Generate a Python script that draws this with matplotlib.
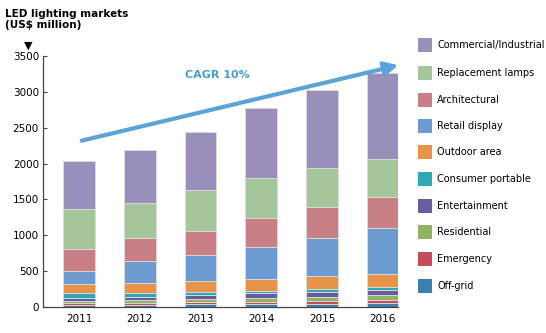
import matplotlib
matplotlib.use('Agg')
from matplotlib import pyplot as plt
from matplotlib.patches import Rectangle
import numpy as np

plt.rcParams['font.family'] = ['DejaVu Sans']

years = ['2011', '2012', '2013', '2014', '2015', '2016']

# segments bottom -> top, US$ million
segments = ['Off-grid', 'Emergency', 'Residential', 'Entertainment', 'Consumer portable',
            'Outdoor area', 'Retail display', 'Architectural', 'Replacement lamps',
            'Commercial/Industrial']
off_grid = [30, 30, 38, 42, 47, 55]
emergency = [25, 25, 30, 30, 35, 40]
residential = [35, 40, 50, 50, 60, 70]
entertainment = [40, 50, 50, 70, 70, 75]
consumer_portable = [60, 55, 45, 35, 35, 35]
outdoor_area = [130, 140, 150, 168, 185, 185]
retail_display = [180, 300, 362, 446, 535, 646]
architectural = [310, 320, 340, 396, 423, 432]
replacement_lamps = [560, 490, 570, 566, 544, 522]
commercial = [670, 740, 810, 977, 1096, 1208]

values = [off_grid, emergency, residential, entertainment, consumer_portable,
          outdoor_area, retail_display, architectural, replacement_lamps, commercial]
colors = ['#3f7fad', '#c84b5d', '#8fb360', '#6a5c9e', '#2ba9b4',
          '#e8934a', '#6c9bd2', '#c97f86', '#a5c59a', '#9a8fba']

fig = plt.figure(figsize=(5.46, 3.33), dpi=100)
ax = fig.add_axes([0.079, 0.078, 0.650, 0.754])

x = np.arange(len(years))
bottom = np.zeros(len(years))
for vals, col in zip(values, colors):
    ax.bar(x, vals, 0.52, bottom=bottom, color=col, edgecolor='#dcdcdc', linewidth=0.6)
    bottom += np.array(vals)

ax.set_xlim(-0.59, 5.25)
ax.set_ylim(0, 3500)
ax.set_yticks(range(0, 3501, 500))
ax.set_xticks(x)
ax.set_xticklabels(years)
ax.tick_params(axis='y', direction='in', length=3, labelsize=7.5, color='#444444', pad=3)
ax.tick_params(axis='x', length=0, labelsize=7.5, pad=5)
for s in ['top', 'right']:
    ax.spines[s].set_visible(False)
for s in ['left', 'bottom']:
    ax.spines[s].set_color('#444444')
    ax.spines[s].set_linewidth(0.9)

# CAGR arrow
ax.annotate('', xy=(5.3, 3380), xytext=(0.0, 2310),
            arrowprops=dict(arrowstyle='-|>,head_length=0.8,head_width=0.4',
                            color='#5ba3d8', lw=3), annotation_clip=False)
ax.text(2.28, 3240, 'CAGR 10%', color='#4a9ad6', fontsize=8, fontweight='bold',
        ha='center', va='center')

fig.text(0.01, 0.972, 'LED lighting markets\n(US$ million)', fontsize=7.5,
         fontweight='bold', ha='left', va='top', linespacing=1.1)
fig.text(0.052, 0.862, '\u25BC', fontsize=8, ha='center', va='center')

# legend, top entry first
ys = [45, 73, 100, 126, 152, 179, 206, 232, 259, 286]
for yp, name, col in zip(ys, segments[::-1], colors[::-1]):
    fig.patches.append(Rectangle((418 / 546, 1 - (yp + 7) / 333), 14 / 546, 14 / 333,
                                 transform=fig.transFigure, facecolor=col,
                                 edgecolor='none', figure=fig))
    fig.text(437 / 546, 1 - yp / 333, name, fontsize=7, ha='left', va='center')

fig.savefig('out.png', dpi=100)
